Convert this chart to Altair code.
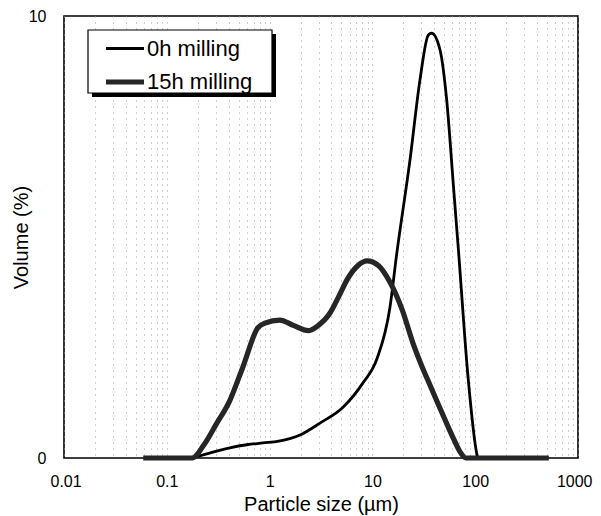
import altair as alt
import pandas as pd

# ---- data ----
series_names = ["0h milling", "15h milling"]

x_0h = [0.176, 0.25, 0.41, 0.6, 0.86, 1.23, 1.98, 3.09, 5.18, 8.1, 11.1, 14.8,
        17.2, 23.2, 29.0, 35.0, 37.7, 45.5, 52.8, 61.2, 68.5, 85.7, 103.5, 106.0]
y_0h = [0.0, 0.1, 0.23, 0.3, 0.34, 0.38, 0.52, 0.79, 1.15, 1.7, 2.25, 3.4,
        4.6, 6.74, 8.55, 9.57, 9.61, 9.23, 8.1, 6.2, 4.74, 1.76, 0.1, 0.0]

x_15h = [0.059, 0.176, 0.23, 0.3, 0.41, 0.55, 0.77, 0.9, 1.26, 1.7, 2.38, 2.9,
         3.87, 4.7, 5.66, 7.2, 8.86, 11.5, 14.8, 19.5, 24.8, 30.0, 36.3, 44.0,
         52.8, 62.0, 71.2, 81.0, 200.0, 520.0]
y_15h = [0.0, 0.0, 0.3, 0.75, 1.3, 2.06, 2.95, 3.05, 3.12, 3.0, 2.88, 2.98,
         3.28, 3.65, 4.03, 4.35, 4.46, 4.35, 3.98, 3.35, 2.6, 2.1, 1.65, 1.2,
         0.78, 0.42, 0.14, 0.0, 0.0, 0.0]

x_labels = [0.01, 0.1, 1, 10, 100, 1000]
y_labels = [0, 10]
grid_mult = [1, 2, 3, 4, 5, 6, 7, 8, 9]
grid_values = [round(m * d, 4) for d in x_labels[:-1] for m in grid_mult] + [1000]

rows = []
for name, xs, ys in [(series_names[0], x_0h, y_0h), (series_names[1], x_15h, y_15h)]:
    for i, (xv, yv) in enumerate(zip(xs, ys)):
        rows.append({"series": name, "size": xv, "volume": yv, "i": i})
df = pd.DataFrame(rows)

FONT = "Liberation Sans"

x_enc = alt.X(
    "size:Q",
    scale=alt.Scale(type="log", domain=[0.01, 1000]),
    axis=alt.Axis(
        values=grid_values,
        format="~g",
        labelExpr="indexof(['0.01','0.1','1','10','100','1000'], datum.label) >= 0 ? datum.label : ''",
        labelOverlap=False,
        labelFlush=True,
        labelFlushOffset=14,
        ticks=False,
        domain=False,
        grid=True,
        gridColor="#9a9a9a",
        gridDash=[1, 5],
        gridWidth=1,
        labelFontSize=16,
        labelPadding=15,
        labelColor="black",
        title="Particle size (µm)",
        titleFontSize=20,
        titleFontWeight="normal",
        titlePadding=5,
        titleColor="black",
    ),
)
y_enc = alt.Y(
    "volume:Q",
    scale=alt.Scale(domain=[0, 10], nice=False),
    axis=alt.Axis(
        values=y_labels,
        ticks=False,
        domain=False,
        grid=False,
        labelFontSize=16,
        labelPadding=18,
        labelColor="black",
        title="Volume (%)",
        titleFontSize=20,
        titleFontWeight="normal",
        titlePadding=-3,
        titleColor="black",
    ),
)

legend = alt.Legend(
    title=None,
    orient="none",
    legendX=39,
    legendY=12,
    labelFontSize=22,
    labelFont=FONT,
    labelColor="black",
    labelOffset=0,
    symbolType="stroke",
    symbolSize=1444,
    rowPadding=-8,
    padding=0,
)

lines = alt.Chart(df).mark_line(interpolate="monotone").encode(
    x=x_enc,
    y=y_enc,
    color=alt.Color("series:N", scale=alt.Scale(domain=series_names, range=["#000000", "#262626"]), legend=legend),
    strokeWidth=alt.StrokeWidth("series:N", scale=alt.Scale(domain=series_names, range=[2.8, 5.2]), legend=legend),
    order="i:Q",
)

one = pd.DataFrame({"k": [0]})
shadow = alt.Chart(one).mark_rect(color="black").encode(
    x=alt.value(28), x2=alt.value(212), y=alt.value(18), y2=alt.value(81)
)
box = alt.Chart(one).mark_rect(fill="white", stroke="black", strokeWidth=1.2).encode(
    x=alt.value(24), x2=alt.value(208), y=alt.value(14), y2=alt.value(77)
)

chart = alt.layer(shadow, box, lines).properties(
    width=514,
    height=442,
    autosize=alt.AutoSizeParams(type="none"),
    padding={"left": 56, "top": 8, "right": 15, "bottom": 58},
).configure(font=FONT).configure_view(stroke="black", strokeWidth=1.6)

chart.save("out.html", embed_options={"renderer": "svg", "actions": False})
